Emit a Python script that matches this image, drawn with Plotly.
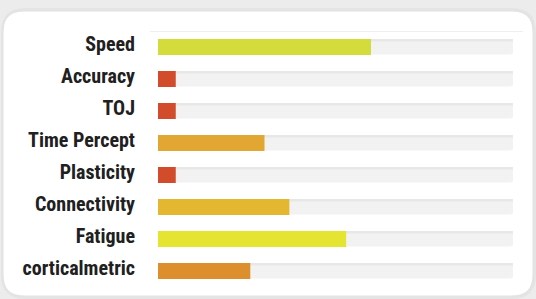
import plotly.graph_objects as go

categories = ["Speed", "Accuracy", "TOJ", "Time Percept", "Plasticity",
              "Connectivity", "Fatigue", "corticalmetric"]
values = [60, 5, 5, 30, 5, 37, 53, 26]
colors = ["#d3dc3a", "#d24b2b", "#d24b2b", "#e2a633", "#d24b2b",
          "#e3b72f", "#e5e431", "#dc8f2c"]
track_max = 100

W, H = 536, 299

def px(x):
    return x / W

def py(y):
    return 1 - y / H

def rounded_rect(x0, y0, x1, y1, r):
    pts = [
        f"M {px(x0 + r)},{py(y0)}",
        f"L {px(x1 - r)},{py(y0)}",
        f"Q {px(x1)},{py(y0)} {px(x1)},{py(y0 + r)}",
        f"L {px(x1)},{py(y1 - r)}",
        f"Q {px(x1)},{py(y1)} {px(x1 - r)},{py(y1)}",
        f"L {px(x0 + r)},{py(y1)}",
        f"Q {px(x0)},{py(y1)} {px(x0)},{py(y1 - r)}",
        f"L {px(x0)},{py(y0 + r)}",
        f"Q {px(x0)},{py(y0)} {px(x0 + r)},{py(y0)}",
        "Z",
    ]
    return " ".join(pts)

fig = go.Figure()
# grey track
fig.add_trace(go.Bar(
    y=categories, x=[track_max] * len(categories), orientation="h",
    marker=dict(color="#f2f2f2", line=dict(width=0)),
    width=0.47, hoverinfo="skip", showlegend=False,
))
# inset shadow at top of the track
fig.add_trace(go.Bar(
    y=categories, x=[track_max] * len(categories), orientation="h",
    marker=dict(color="#e7e7e7", line=dict(width=0)),
    width=0.06, offset=-0.235, hoverinfo="skip", showlegend=False,
))
# values
fig.add_trace(go.Bar(
    y=categories, x=values, orientation="h",
    marker=dict(color=colors, line=dict(width=0)),
    width=0.5, showlegend=False,
))

shapes = [
    dict(type="path", xref="paper", yref="paper", layer="below",
         path=rounded_rect(1, 8, 536, 299, 24),
         fillcolor="rgba(0,0,0,0.03)", line=dict(width=0)),
    dict(type="path", xref="paper", yref="paper", layer="below",
         path=rounded_rect(3, 11, 533, 296, 21),
         fillcolor="white", line=dict(color="#e2e2e2", width=1)),
    dict(type="line", xref="paper", yref="paper", layer="below",
         x0=px(150), x1=px(523), y0=py(31.5), y1=py(31.5),
         line=dict(color="#efefef", width=1)),
]

fig.update_layout(
    width=W, height=H,
    margin=dict(l=0, r=0, t=0, b=0),
    paper_bgcolor="#ececec",
    plot_bgcolor="rgba(0,0,0,0)",
    barmode="overlay",
    barcornerradius=3,
    shapes=shapes,
    xaxis=dict(domain=[px(158), px(513)], range=[0, track_max],
               visible=False, fixedrange=True),
    yaxis=dict(domain=[py(287), py(31)], autorange="reversed",
               showgrid=False, zeroline=False, showline=False, ticks="",
               ticklabelstandoff=22, ticklabelshift=3, fixedrange=True,
               tickfont=dict(family="Roboto Condensed", size=20,
                             color="#202020", weight="bold")),
)

fig.write_html("out.html", config={"displayModeBar": False},
               post_script="document.body.style.margin='0';")
